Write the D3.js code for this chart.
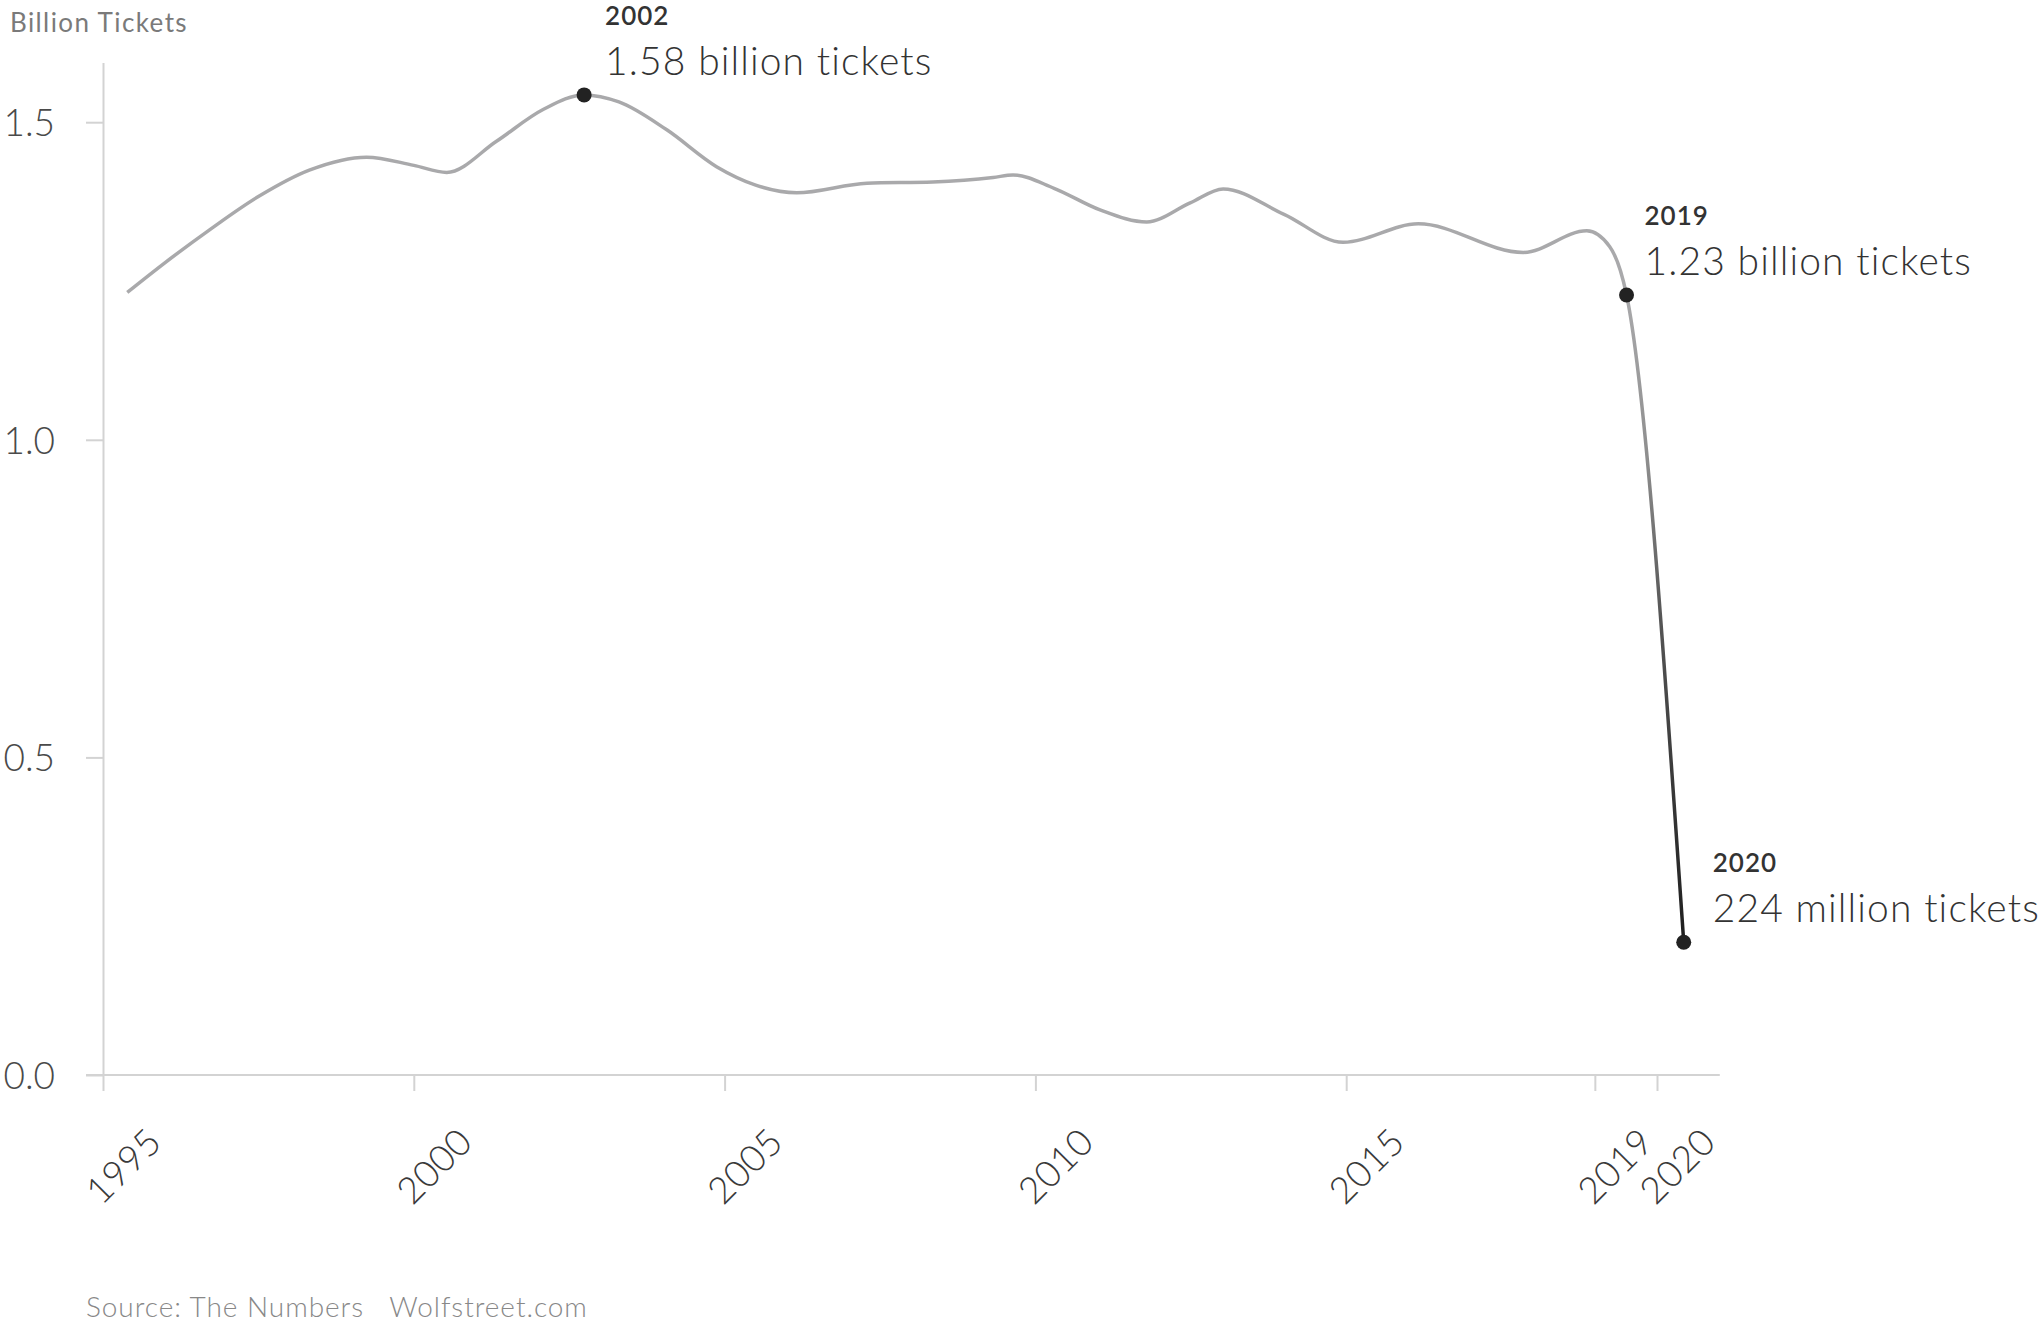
<!DOCTYPE html>
<html>
<head>
<meta charset="utf-8">
<title>Billion Tickets</title>
<style>
  body { margin: 0; background: #fff; }
  svg { display: block; font-family: Lato, "Open Sans", sans-serif; }
  .axis line, .axis path { stroke: #d3d3d3; stroke-width: 2; }
  .light { font-family: "Lato Light", Lato, sans-serif; font-weight: 300; }
</style>
</head>
<body>
<script src="https://cdnjs.cloudflare.com/ajax/libs/d3/7.8.5/d3.min.js"></script>
<script>
// traced points of the smoothed line: position in years, billion tickets
var curveYears = [1995.39, 1996.0, 1996.72, 1997.5, 1998.33, 1999.24, 2000.0, 2000.53,
                  2001.33, 2002.08, 2002.74, 2003.3, 2004.07, 2004.87, 2005.5, 2006.16,
                  2007.29, 2008.35, 2009.32, 2009.64, 2010.3, 2011.04, 2011.79, 2012.49,
                  2013.02, 2014.0, 2014.95, 2016.16, 2017.85, 2018.87, 2019.24, 2019.51,
                  2020.43];
var curveValues = [1.232, 1.279, 1.331, 1.383, 1.425, 1.445, 1.432, 1.421,
                   1.470, 1.520, 1.543, 1.532, 1.488, 1.430, 1.401, 1.389,
                   1.404, 1.406, 1.413, 1.417, 1.396, 1.362, 1.343, 1.373,
                   1.395, 1.355, 1.311, 1.340, 1.295, 1.329, 1.304, 1.228,
                   0.209];

var xTicks = [1995, 2000, 2005, 2010, 2015, 2019, 2020];
var yTicks = [0, 0.5, 1.0, 1.5];

// annotations
var annoYears = ["2002", "2019", "2020"];
var annoText = ["1.58 billion tickets", "1.23 billion tickets", "224 million tickets"];
var annoPos = [2002.74, 2019.51, 2020.43];
var annoDx = [21, 18, 29];

var width = 2042, height = 1324;

var svg = d3.select("body").append("svg")
    .attr("width", width)
    .attr("height", height);

var x = d3.scaleLinear().domain([1995, 2020]).range([103, 1657]);
var y = d3.scaleLinear().domain([0, 1.594]).range([1075, 62.5]);

// y axis
var yAxis = svg.append("g")
    .attr("class", "axis")
    .attr("transform", "translate(" + x(1995) + ",0)")
    .call(d3.axisLeft(y).tickValues(yTicks).tickSize(17).tickSizeOuter(0)
          .tickPadding(31).tickFormat(d3.format(".1f")));
yAxis.selectAll("text")
    .attr("class", "light")
    .style("font-size", "37px")
    .style("fill", "#4a4a4a")
    .attr("dy", "0.36em");

// x axis
var xAxis = svg.append("g")
    .attr("class", "axis")
    .attr("transform", "translate(0," + y(0) + ")")
    .call(d3.axisBottom(x).tickValues(xTicks).tickSize(16).tickSizeOuter(0)
          .tickFormat(d3.format("d")));
xAxis.select(".domain").remove();
xAxis.append("line")
    .attr("x1", x(1995) - 17)
    .attr("x2", x(2021.01))
    .attr("y1", 0)
    .attr("y2", 0);
xAxis.selectAll(".tick text")
    .attr("class", "light")
    .attr("y", null)
    .attr("dy", "0.35em")
    .attr("transform", "translate(20,91) rotate(-45)")
    .style("text-anchor", "middle")
    .style("font-size", "37px")
    .style("letter-spacing", "0.5px")
    .style("fill", "#3a3a3a");

// gradient for the 2020 drop
var grad = svg.append("defs").append("linearGradient")
    .attr("id", "drop")
    .attr("gradientUnits", "userSpaceOnUse")
    .attr("x1", 0).attr("x2", 0)
    .attr("y1", y(1.228)).attr("y2", y(0.209));
grad.append("stop").attr("offset", 0).attr("stop-color", "#a9a9ab");
grad.append("stop").attr("offset", 0.25).attr("stop-color", "#8e8e8e");
grad.append("stop").attr("offset", 0.5).attr("stop-color", "#555");
grad.append("stop").attr("offset", 1).attr("stop-color", "#1e1e1e");

var line = d3.line()
    .x(function(d, i) { return x(curveYears[i]); })
    .y(function(d) { return y(d); })
    .curve(d3.curveMonotoneX);

svg.append("path")
    .datum(curveValues)
    .attr("d", line)
    .style("fill", "none")
    .style("stroke", "url(#drop)")
    .style("stroke-width", 3.5);

// dots and labels
annoPos.forEach(function(p, k) {
    var v = curveValues[curveYears.indexOf(p)];
    var cx = x(p), cy = y(v);
    svg.append("circle")
        .attr("cx", cx)
        .attr("cy", cy)
        .attr("r", 7.5)
        .style("fill", "#222");
    svg.append("text")
        .attr("x", cx + annoDx[k])
        .attr("y", cy - 70)
        .style("font-size", "26px")
        .style("font-weight", 600)
        .style("letter-spacing", "1px")
        .style("fill", "#333")
        .text(annoYears[k]);
    svg.append("text")
        .attr("class", "light")
        .attr("x", cx + annoDx[k])
        .attr("y", cy - 20)
        .style("font-size", "39px")
        .style("letter-spacing", "1.1px")
        .style("fill", "#333")
        .text(annoText[k]);
});

// axis title
svg.append("text")
    .attr("x", 10)
    .attr("y", 32)
    .style("font-size", "26px")
    .style("font-weight", 400)
    .style("letter-spacing", "1.4px")
    .style("fill", "#7a7a7a")
    .text("Billion Tickets");

// source
svg.append("text")
    .attr("class", "light")
    .attr("x", 86)
    .attr("y", 1317)
    .style("white-space", "pre")
    .style("font-size", "28px")
    .style("letter-spacing", "0.95px")
    .style("fill", "#888")
    .text("Source: The Numbers   Wolfstreet.com");
</script>
</body>
</html>
